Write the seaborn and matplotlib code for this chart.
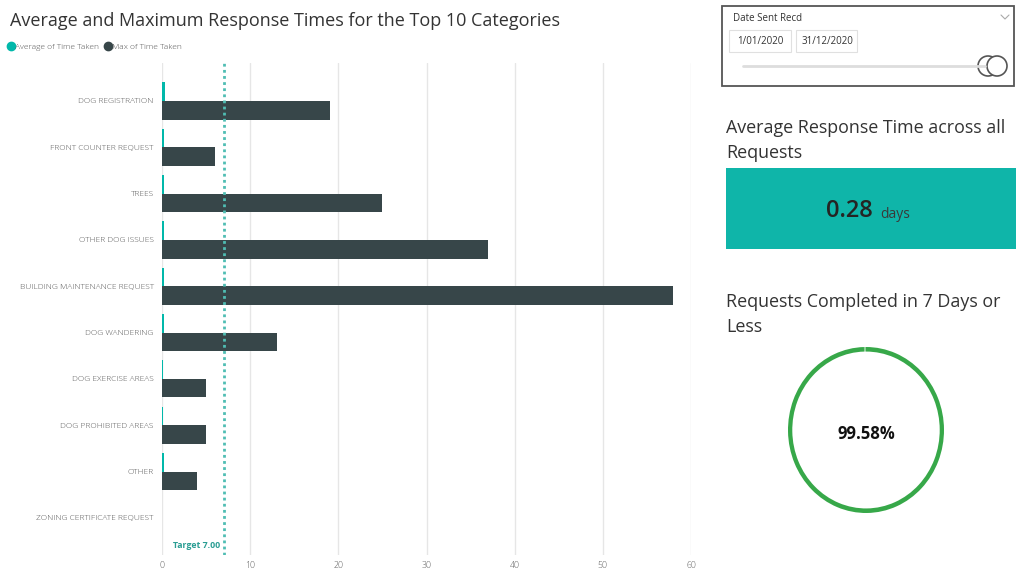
import matplotlib
matplotlib.use("Agg")
import matplotlib.pyplot as plt
import seaborn as sns
import pandas as pd
from matplotlib.patches import Rectangle, Circle
from matplotlib.lines import Line2D

# ---------------- data ----------------
categories = ["DOG REGISTRATION", "FRONT COUNTER REQUEST", "TREES", "OTHER DOG ISSUES",
              "BUILDING MAINTENANCE REQUEST", "DOG WANDERING", "DOG EXERCISE AREAS",
              "DOG PROHIBITED AREAS", "OTHER", "ZONING CERTIFICATE REQUEST"]
avg_time = [0.35, 0.25, 0.2, 0.2, 0.25, 0.2, 0.15, 0.15, 0.2, 0.0]
max_time = [19, 6, 25, 37, 58, 13, 5, 5, 4, 0]
series_names = ["Average of Time Taken", "Max of Time Taken"]
x_ticks = [0, 10, 20, 30, 40, 50, 60]
target_value = 7.0
avg_response_days = 0.28
pct_completed = 99.58
date_start = "1/01/2020"
date_end = "31/12/2020"

TEAL = "#01B8AA"
DARK = "#374649"
FONT = ["Open Sans", "DejaVu Sans"]

sns.set_theme(style="white")
plt.rcParams["font.family"] = FONT

df = pd.DataFrame({
    "category": categories * 2,
    "series": [series_names[0]] * len(categories) + [series_names[1]] * len(categories),
    "value": avg_time + max_time,
})

W, H = 1018, 569
fig = plt.figure(figsize=(W / 100, H / 100), dpi=100)

# overlay axes in pixel coordinates for dashboard chrome
ov = fig.add_axes([0, 0, 1, 1])
ov.set_xlim(0, W)
ov.set_ylim(H, 0)
ov.axis("off")

# ---------------- main bar chart ----------------
left, right, top, bottom = 162, 691, 63, 555
ax = fig.add_axes([left / W, 1 - bottom / H, (right - left) / W, (bottom - top) / H])
sns.barplot(data=df, y="category", x="value", hue="series", hue_order=series_names,
            order=categories, palette=[TEAL, DARK], saturation=1, linewidth=0,
            width=0.8, ax=ax, legend=False)
ax.set_xlim(0, 60)
ax.set_ylim(9.80, -0.82)
ax.set_xticks(x_ticks)
ax.set_xticklabels([str(t) for t in x_ticks])
ax.xaxis.grid(True, color="#e6e6e6", linewidth=1)
ax.set_axisbelow(True)
for s in ax.spines.values():
    s.set_visible(False)
ax.tick_params(axis="both", length=0, colors="#5a5a5a", labelsize=6.3)
ax.tick_params(axis="y", pad=6, labelsize=6.0)
ax.tick_params(axis="x", pad=4)
for lbl in ax.get_yticklabels() + ax.get_xticklabels():
    lbl.set_fontweight("light")
ax.set_xlabel("")
ax.set_ylabel("")
ax.patch.set_alpha(0)

ax.axvline(target_value, color="#4fbdb3", linestyle=(0, (1, 1.2)), linewidth=2, zorder=3)
ax.text(target_value - 0.4, 9.60, f"Target {target_value:.2f}", color="#2a9d93",
        fontsize=6.3, fontweight="bold", ha="right", va="center")

# title
ov.text(10, 21, "Average and Maximum Response Times for the Top 10 Categories",
        fontsize=13, color="#333333", ha="left", va="center")

# legend
handles = [Line2D([0], [0], marker="o", linestyle="", markersize=6,
                  markerfacecolor=c, markeredgecolor=c) for c in (TEAL, DARK)]
leg = fig.legend(handles, series_names, loc="center left", bbox_to_anchor=(0.007, 1 - 47 / H),
                 ncol=2, frameon=False, fontsize=6, handletextpad=0.0, columnspacing=0.5,
                 borderaxespad=0, borderpad=0, labelcolor="#555555", handlelength=1.0)
for t in leg.get_texts():
    t.set_fontweight("light")

# ---------------- slicer ----------------
ov.add_patch(Rectangle((722, 6), 292, 80, facecolor="white", edgecolor="#555555", lw=1.3))
ov.text(733, 18, "Date Sent Recd", fontsize=7, color="#333333", ha="left", va="center")
ov.plot([1001, 1005, 1009], [15, 19, 15], color="#aaaaaa", lw=0.8)
ov.add_patch(Rectangle((729, 30), 62, 22, facecolor="white", edgecolor="#e0e0e0", lw=0.8))
ov.add_patch(Rectangle((796, 30), 61, 22, facecolor="white", edgecolor="#e0e0e0", lw=0.8))
ov.text(737, 41, date_start, fontsize=7, color="#333333", ha="left", va="center")
ov.text(802, 41, date_end, fontsize=7, color="#333333", ha="left", va="center")
ov.plot([743, 985], [66, 66], color="#dddddd", lw=2, solid_capstyle="round")
ov.add_patch(Circle((988, 66), 10, facecolor="white", edgecolor="#555555", lw=1.2))
ov.add_patch(Circle((997, 66), 10, facecolor="white", edgecolor="#555555", lw=1.2))

# ---------------- card 1 ----------------
ov.text(726, 128, "Average Response Time across all", fontsize=12.9, color="#333333",
        ha="left", va="center")
ov.text(726, 153, "Requests", fontsize=12.9, color="#333333", ha="left", va="center")
ov.add_patch(Rectangle((726, 168), 290, 81, facecolor="#0FB5A9", edgecolor="none"))
ov.text(873, 211, f"{avg_response_days:.2f}", fontsize=17, color="#252423",
        ha="right", va="center", fontweight="semibold")
ov.text(880, 214, "days", fontsize=10, color="#3a3a3a", ha="left", va="center")

# ---------------- card 2 ----------------
ov.text(726, 302, "Requests Completed in 7 Days or", fontsize=12.9, color="#333333",
        ha="left", va="center")
ov.text(726, 327, "Less", fontsize=12.9, color="#333333", ha="left", va="center")

cx, cy, rw, rh = 866, 430, 78, 83
axd = fig.add_axes([(cx - rw) / W, 1 - (cy + rh) / H, 2 * rw / W, 2 * rh / H])
axd.pie([pct_completed, 100 - pct_completed], colors=["#37A849", "#8fcf98"],
        startangle=90, counterclock=False, radius=1,
        wedgeprops=dict(width=0.055, linewidth=0))
axd.set_aspect("auto")
axd.set_xlim(-1.0, 1.0)
axd.set_ylim(-1.0, 1.0)
axd.axis("off")
ov.text(cx, 434, f"{pct_completed:.2f}%", fontsize=12, fontweight="bold",
        color="#111111", ha="center", va="center")

fig.savefig("out.png", dpi=100)
